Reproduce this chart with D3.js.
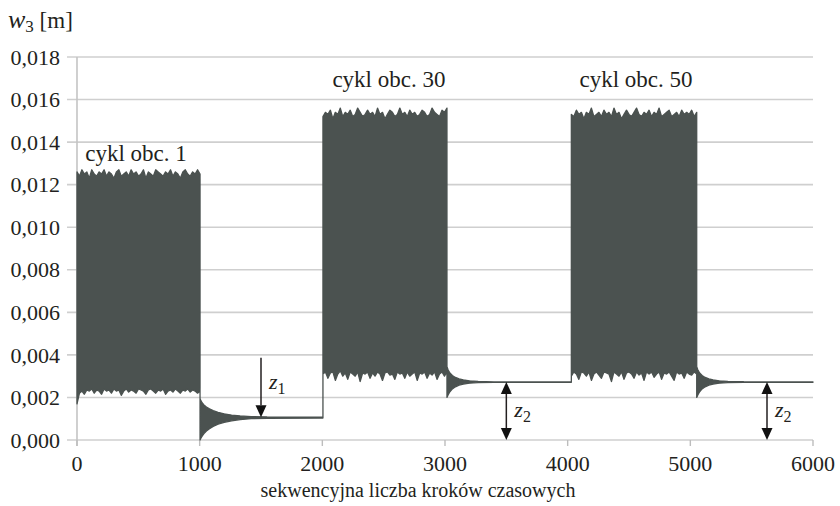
<!DOCTYPE html>
<html>
<head>
<meta charset="utf-8">
<script src="https://cdn.jsdelivr.net/npm/d3@7/dist/d3.min.js"></script>
<style>
  html, body { margin: 0; padding: 0; background: #fff; }
  svg { display: block; }
  text { font-family: "Liberation Serif", "DejaVu Serif", serif; fill: #231f20; }
</style>
</head>
<body>
<svg id="chart" width="840" height="506"></svg>
<script>
// Axis ticks
const xTicks = [0, 1000, 2000, 3000, 4000, 5000, 6000];
const yTicks = [0, 0.002, 0.004, 0.006, 0.008, 0.010, 0.012, 0.014, 0.016, 0.018];

// Displacement w3 in millimetres; envelopes of the oscillation in each load cycle
// Loading cycle 1 (steps 0 - 1003)
const cycle1Span = [0, 1003];
const cycle1Top = [12.6,12.4,12.7,12.5,12.6,12.3,12.7,12.5,12.4,12.6,12.5,12.7,12.4,12.6,12.5,12.3,12.6,12.7,12.4,12.5,12.6,12.4,12.7,12.5,12.6,12.4,12.5,12.7,12.3,12.6,12.5,12.4,12.7,12.6,12.5,12.4,12.6,12.5,12.7,12.4,12.6,12.5,12.3,12.6,12.7,12.5,12.4,12.6,12.5,12.7,12.5];
const cycle1Bottom = [1.7,2.2,2.3,2.15,2.35,2.3,2.4,2.2,2.35,2.3,2.15,2.4,2.3,2.35,2.2,2.4,2.3,2.35,2.1,2.3,2.4,2.25,2.35,2.3,2.2,2.4,2.35,2.3,2.15,2.35,2.4,2.3,2.2,2.35,2.3,2.4,2.15,2.3,2.35,2.25,2.4,2.3,2.2,2.35,2.3,2.4,2.25,2.35,2.3,2.2,2.3];

// Unloading after cycle 1
const rest1Steps  = [1003,1010,1020,1035,1055,1080,1110,1150,1200,1260,1330,1420,1550,2005];
const rest1Top    = [1.95,1.85,1.75,1.65,1.55,1.47,1.38,1.3,1.23,1.17,1.13,1.1,1.08,1.07];
const rest1Bottom = [0.0,0.08,0.18,0.3,0.42,0.53,0.64,0.74,0.83,0.9,0.96,1.0,1.02,1.03];

// Loading cycle 30
const cycle30Span = [2005, 3016];
const cycle30Top = [15.2,15.4,15.3,15.5,15.1,15.4,15.3,15.6,15.2,15.4,15.3,15.5,15.2,15.3,15.6,15.4,15.2,15.3,15.5,15.3,15.4,15.2,15.6,15.3,15.4,15.1,15.3,15.5,15.4,15.2,15.3,15.6,15.3,15.4,15.2,15.5,15.3,15.4,15.2,15.3,15.5,15.4,15.2,15.3,15.6,15.4,15.3,15.2,15.5,15.4,15.6];
const cycle30Bottom = [3.1,3.2,2.9,3.15,3.2,2.8,3.1,3.25,3.0,3.15,2.85,3.2,3.1,3.0,3.2,2.75,3.15,3.1,3.2,2.9,3.15,3.0,3.2,3.1,2.8,3.15,3.2,3.05,3.1,2.85,3.2,3.1,3.15,2.9,3.2,3.0,3.1,3.2,2.8,3.15,3.1,3.2,2.9,3.15,3.05,3.2,2.85,3.1,3.2,3.0,3.2];

// Unloading after cycle 30
const rest30Steps  = [3016,3025,3040,3060,3085,3115,3150,3200,3270,3400,4030];
const rest30Top    = [3.45,3.3,3.15,3.03,2.94,2.87,2.82,2.78,2.75,2.73,2.73];
const rest30Bottom = [2.0,2.12,2.27,2.4,2.5,2.58,2.63,2.67,2.7,2.71,2.71];

// Loading cycle 50
const cycle50Span = [4030, 5052];
const cycle50Top = [15.3,15.2,15.5,15.3,15.4,15.1,15.4,15.3,15.6,15.2,15.3,15.4,15.2,15.5,15.3,15.4,15.2,15.6,15.3,15.4,15.1,15.3,15.5,15.3,15.2,15.4,15.6,15.3,15.2,15.4,15.3,15.5,15.2,15.4,15.3,15.6,15.2,15.3,15.4,15.5,15.2,15.3,15.4,15.2,15.5,15.3,15.4,15.3,15.5,15.2,15.4];
const cycle50Bottom = [3.0,3.2,3.1,2.85,3.2,3.15,3.0,3.2,2.8,3.1,3.2,3.05,2.9,3.2,3.15,3.1,2.75,3.2,3.1,3.0,3.2,2.85,3.15,3.2,3.1,2.9,3.2,3.05,3.15,2.8,3.2,3.1,3.2,2.95,3.1,3.2,2.85,3.15,3.1,3.2,3.0,2.8,3.2,3.1,3.15,2.9,3.2,3.1,3.05,3.2,3.1];

// Unloading after cycle 50
const rest50Steps  = [5052,5061,5076,5096,5121,5151,5186,5236,5306,5436,6000];
const rest50Top    = [3.45,3.3,3.15,3.03,2.94,2.87,2.82,2.78,2.75,2.73,2.73];
const rest50Bottom = [2.0,2.12,2.27,2.4,2.5,2.58,2.63,2.67,2.7,2.71,2.71];

// Cycle labels
const cycleLabels = [
  { text: "cykl obc. 1",  step: 481,  value: 0.0131 },
  { text: "cykl obc. 30", step: 2543, value: 0.0166 },
  { text: "cykl obc. 50", step: 4557, value: 0.0166 }
];

// Residual displacement markers
const markers = [
  { name: "z", sub: "1", step: 1500, from: 0.00386, to: 0.00107, heads: "end" },
  { name: "z", sub: "2", step: 3500, from: 0.00273, to: 0.0, heads: "both" },
  { name: "z", sub: "2", step: 5625, from: 0.00273, to: 0.0, heads: "both" }
];

const svg = d3.select("#chart");
const x = d3.scaleLinear().domain([0, 6000]).range([77, 813]);
const y = d3.scaleLinear().domain([0, 0.018]).range([440, 57]);

const fmt = v => d3.format(".3f")(v).replace(".", ",");

// Horizontal grid
svg.append("g").selectAll("line").data(yTicks).join("line")
  .attr("x1", 67).attr("x2", x(6000))
  .attr("y1", d => y(d)).attr("y2", d => y(d))
  .attr("stroke", "#cfcfcf").attr("stroke-width", 1.6);

// Left axis line
svg.append("line")
  .attr("x1", x(0)).attr("x2", x(0)).attr("y1", y(0.018)).attr("y2", y(0) + 6)
  .attr("stroke", "#c4c4c4").attr("stroke-width", 1.6);

// X axis ticks
svg.append("g").selectAll("line").data(xTicks).join("line")
  .attr("x1", d => x(d)).attr("x2", d => x(d))
  .attr("y1", y(0)).attr("y2", y(0) + 6)
  .attr("stroke", "#bdbdbd").attr("stroke-width", 1.4);

// Y tick labels
svg.append("g").selectAll("text").data(yTicks).join("text")
  .attr("x", 60).attr("y", d => y(d)).attr("dy", "0.35em")
  .attr("text-anchor", "end").attr("font-size", 22)
  .text(fmt);

// X tick labels
svg.append("g").selectAll("text").data(xTicks).join("text")
  .attr("x", d => x(d)).attr("y", 471)
  .attr("text-anchor", "middle").attr("font-size", 22)
  .text(d => d);

// Axis titles
svg.append("text").attr("x", 418).attr("y", 497)
  .attr("text-anchor", "middle").attr("font-size", 20)
  .text("sekwencyjna liczba kroków czasowych");

const yTitle = svg.append("text").attr("x", 8).attr("y", 28).attr("font-size", 23);
yTitle.append("tspan").attr("font-style", "italic").attr("font-size", 26).text("w");
yTitle.append("tspan").attr("font-size", 17).attr("dy", 4).text("3");
yTitle.append("tspan").attr("dy", -4).text(" [m]");

// Build the response series
function spread(span, top, bottom) {
  const n = top.length;
  return top.map((t, i) => ({
    step: span[0] + (span[1] - span[0]) * i / (n - 1),
    hi: t / 1000, lo: bottom[i] / 1000
  }));
}
function pairs(steps, top, bottom) {
  return steps.map((s, i) => ({ step: s, hi: top[i] / 1000, lo: bottom[i] / 1000 }));
}
const series = [].concat(
  spread(cycle1Span, cycle1Top, cycle1Bottom),
  pairs(rest1Steps, rest1Top, rest1Bottom),
  spread(cycle30Span, cycle30Top, cycle30Bottom),
  pairs(rest30Steps, rest30Top, rest30Bottom),
  spread(cycle50Span, cycle50Top, cycle50Bottom),
  pairs(rest50Steps, rest50Top, rest50Bottom)
);

const area = d3.area()
  .x(d => x(d.step)).y0(d => y(d.lo)).y1(d => y(d.hi));

svg.append("path").datum(series)
  .attr("d", area)
  .attr("fill", "#4b5250")
  .attr("stroke", "#4b5250").attr("stroke-width", 1.3)
  .attr("stroke-linejoin", "round");

// Cycle labels
svg.append("g").selectAll("text").data(cycleLabels).join("text")
  .attr("x", d => x(d.step)).attr("y", d => y(d.value))
  .attr("text-anchor", "middle").attr("font-size", 23)
  .text(d => d.text);

// Markers
const mg = svg.append("g");
markers.forEach(m => {
  const mx = x(m.step), y1 = y(m.from), y2 = y(m.to);
  const hl = 12, hw = 5.5;
  const lineTop = m.heads === "both" ? y1 + hl : y1;
  mg.append("line").attr("x1", mx).attr("x2", mx)
    .attr("y1", lineTop).attr("y2", y2 - hl)
    .attr("stroke", "#231f20").attr("stroke-width", 1.5);
  mg.append("path")
    .attr("d", `M${mx - hw},${y2 - hl}L${mx + hw},${y2 - hl}L${mx},${y2}Z`)
    .attr("fill", "#111");
  if (m.heads === "both") {
    mg.append("path")
      .attr("d", `M${mx - hw},${y1 + hl}L${mx + hw},${y1 + hl}L${mx},${y1}Z`)
      .attr("fill", "#111");
  }
  const ty = m.heads === "both" ? (y1 + y2) / 2 + 6 : (y1 + y2) / 2 + 1;
  const t = mg.append("text").attr("x", mx + 8).attr("y", ty).attr("font-size", 22);
  t.append("tspan").attr("font-style", "italic").text(m.name);
  t.append("tspan").attr("font-size", 16).attr("dy", 5).text(m.sub);
});
</script>
</body>
</html>
